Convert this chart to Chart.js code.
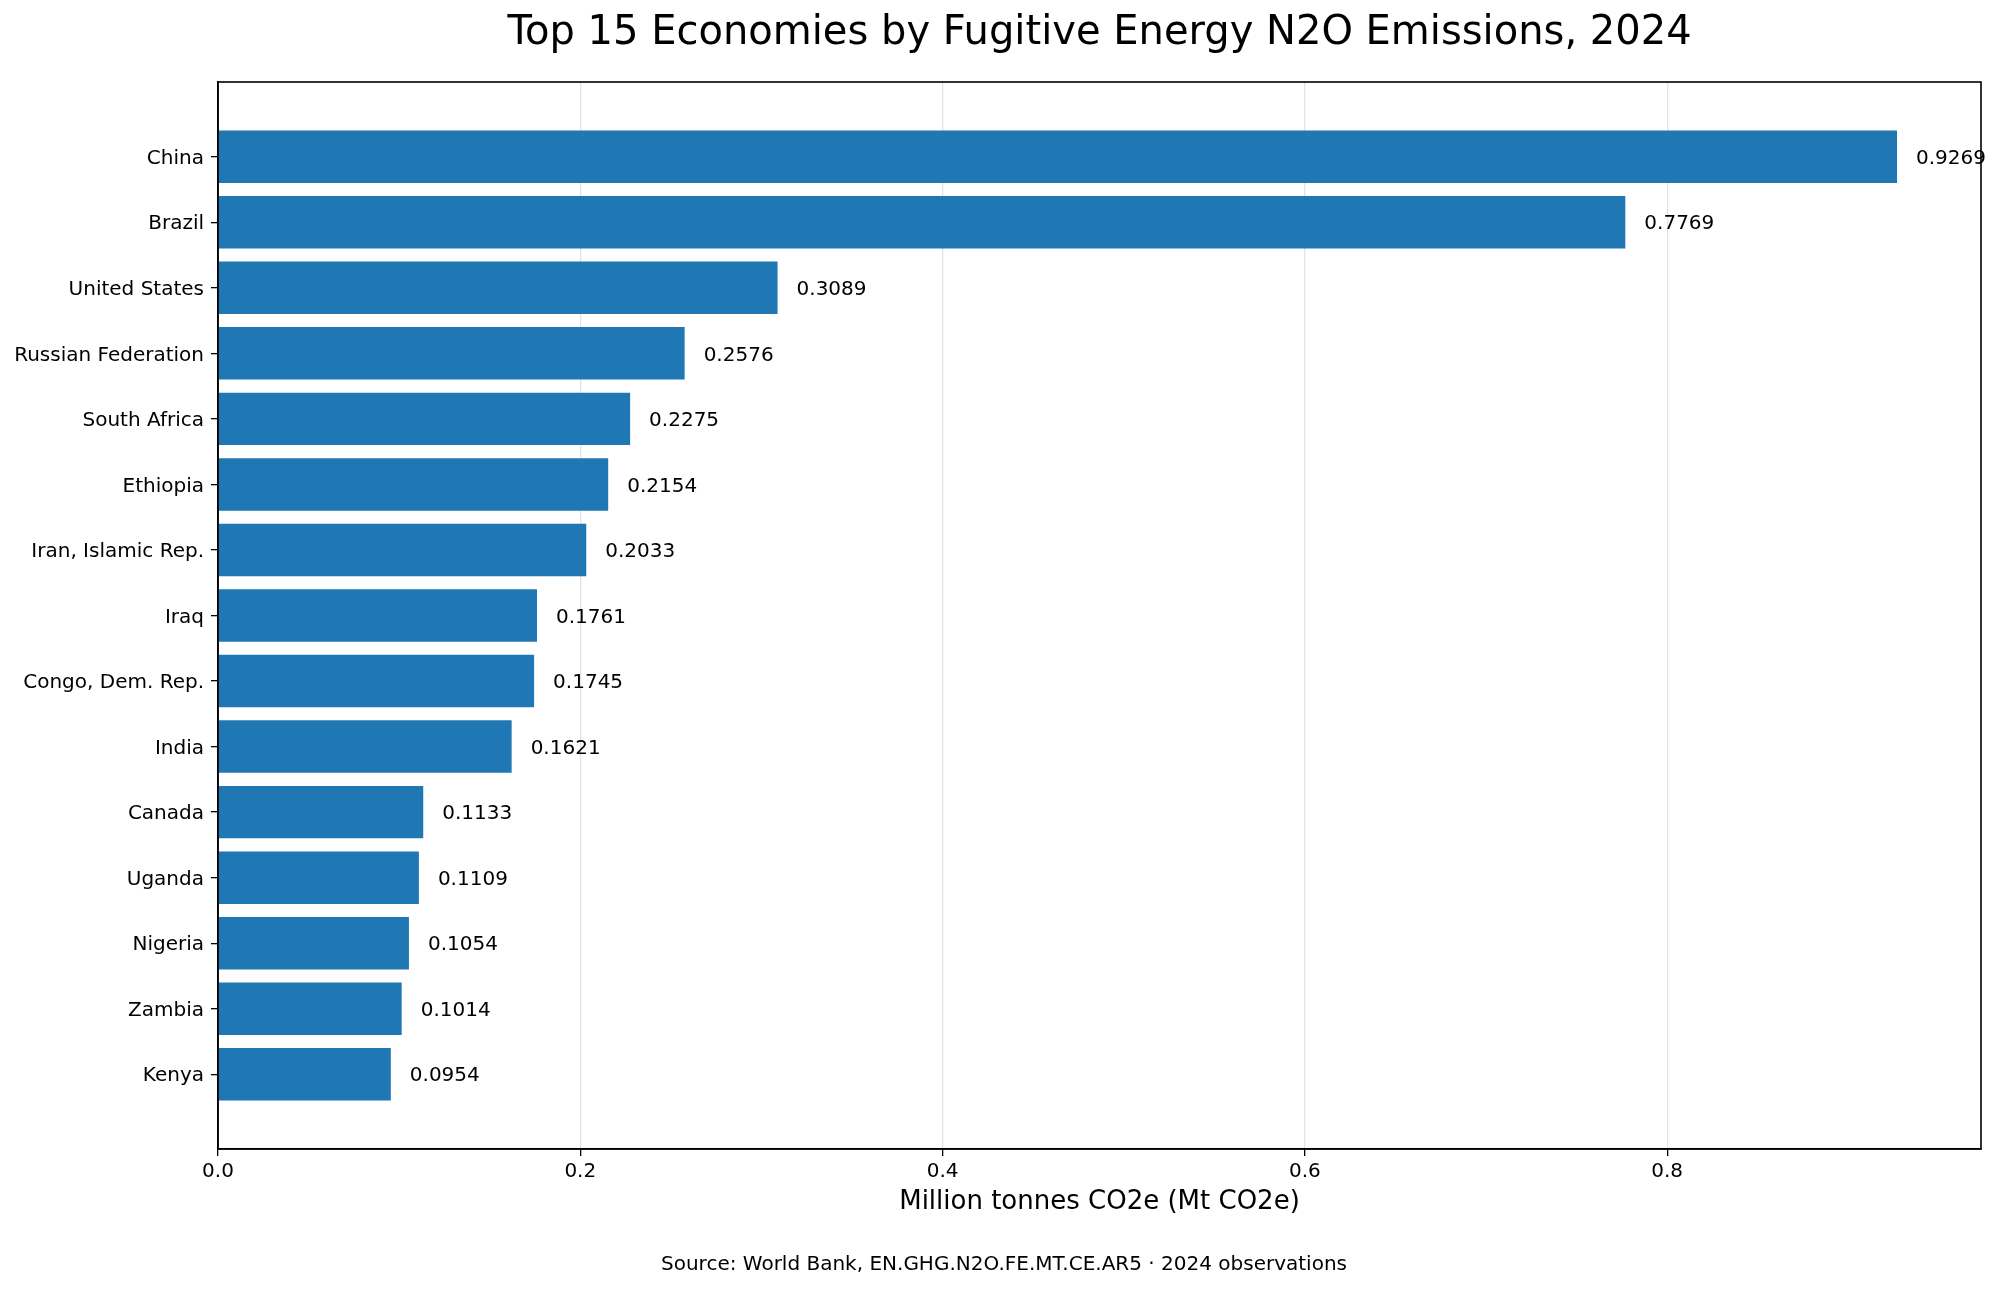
<!DOCTYPE html>
<html>
<head>
<meta charset="utf-8">
<script src="https://cdn.jsdelivr.net/npm/chart.js@4.4.1/dist/chart.umd.min.js"></script>
<style>
  html, body { margin: 0; padding: 0; background: #fff; }
  #wrap { width: 2000px; height: 1291px; position: relative; }
</style>
</head>
<body>
<div id="wrap"><canvas id="myChart" width="2000" height="1291"></canvas></div>
<script>
// data
const countries = [
  "China", "Brazil", "United States", "Russian Federation", "South Africa",
  "Ethiopia", "Iran, Islamic Rep.", "Iraq", "Congo, Dem. Rep.", "India",
  "Canada", "Uganda", "Nigeria", "Zambia", "Kenya"
];
const emissions = [
  0.9269, 0.7769, 0.3089, 0.2576, 0.2275,
  0.2154, 0.2033, 0.1761, 0.1745, 0.1621,
  0.1133, 0.1109, 0.1054, 0.1014, 0.0954
];
const xTicks = [0, 0.2, 0.4, 0.6, 0.8];

const chartTitle = "Top 15 Economies by Fugitive Energy N2O Emissions, 2024";
const xTitle = "Million tonnes CO2e (Mt CO2e)";
const sourceNote = "Source: World Bank, EN.GHG.N2O.FE.MT.CE.AR5 \u00b7 2024 observations";

const FONT = "'DejaVu Sans', sans-serif";
const BLUE = "#1f77b4";

// text around the axes + value labels + frame
const extras = {
  id: "extras",
  afterDatasetsDraw(chart) {
    const ctx = chart.ctx;
    const meta = chart.getDatasetMeta(0);
    ctx.save();
    ctx.fillStyle = "#000";
    ctx.font = "20px " + FONT;
    ctx.textAlign = "left";
    ctx.textBaseline = "middle";
    meta.data.forEach((bar, i) => {
      ctx.fillText(emissions[i].toFixed(4), bar.x + 19, bar.y + 2);
    });
    ctx.restore();
  },
  afterDraw(chart) {
    const ctx = chart.ctx;
    const a = chart.chartArea;
    ctx.save();
    ctx.strokeStyle = "#000";
    ctx.lineWidth = 1.6;
    ctx.strokeRect(a.left, a.top, a.right - a.left, a.bottom - a.top);

    ctx.fillStyle = "#000";
    ctx.textAlign = "center";
    ctx.textBaseline = "middle";
    const cx = (a.left + a.right) / 2;
    ctx.font = "40px " + FONT;
    ctx.fillText(chartTitle, cx, 34);
    ctx.font = "26px " + FONT;
    ctx.fillText(xTitle, cx, 1202);
    ctx.font = "20px " + FONT;
    ctx.fillText(sourceNote, 1004, 1265);
    ctx.restore();
  }
};

new Chart("myChart", {
  type: "bar",
  data: {
    datasets: [{
      data: emissions.map((v, i) => ({ x: v, y: i })),
      backgroundColor: BLUE,
      borderWidth: 0,
      barPercentage: 0.8,
      categoryPercentage: 1.0
    }]
  },
  options: {
    indexAxis: "y",
    responsive: false,
    animation: false,
    devicePixelRatio: 1,
    layout: { padding: { top: 82, right: 19, bottom: 0, left: 0 } },
    plugins: {
      legend: { display: false },
      title: { display: false },
      tooltip: { enabled: false }
    },
    scales: {
      x: {
        type: "linear",
        min: 0,
        max: 0.97325,
        offset: false,
        afterBuildTicks: axis => { axis.ticks = xTicks.map(v => ({ value: v })); },
        afterFit: axis => { axis.height = 142; },
        ticks: {
          color: "#000",
          font: { family: FONT, size: 20 },
          padding: 4,
          maxRotation: 0,
          callback: v => Number(v).toFixed(1)
        },
        grid: {
          offset: false,
          color: "rgba(176,176,176,0.35)",
          lineWidth: 1.3,
          tickColor: "#000",
          tickLength: 7,
          drawOnChartArea: true
        },
        border: { display: true, color: "#000", width: 1.6 }
      },
      y: {
        type: "linear",
        reverse: true,
        offset: false,
        min: -1.14,
        max: 15.14,
        afterBuildTicks: axis => { axis.ticks = countries.map((c, i) => ({ value: i })); },
        afterFit: axis => { axis.width = 218; },
        ticks: {
          color: "#000",
          font: { family: FONT, size: 20 },
          padding: 7,
          labelOffset: 2,
          autoSkip: false,
          callback: v => countries[v]
        },
        grid: {
          offset: false,
          drawOnChartArea: false,
          tickColor: "#000",
          tickLength: 7,
          lineWidth: 1.3
        },
        border: { display: true, color: "#000", width: 1.6 }
      }
    }
  },
  plugins: [extras]
});
</script>
</body>
</html>
